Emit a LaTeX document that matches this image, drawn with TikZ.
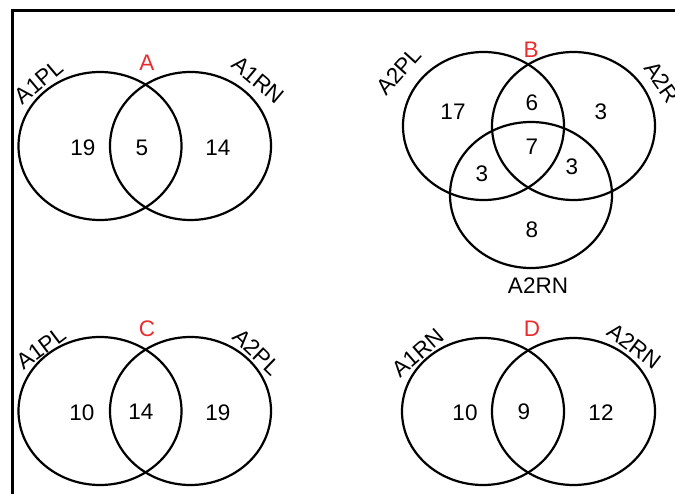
\documentclass[tikz,border=0pt]{standalone}
\usepackage{fontspec}
\setmainfont{Liberation Sans}
\usetikzlibrary{shapes.geometric}
\definecolor{setred}{RGB}{232,44,48}
\begin{document}
\begin{tikzpicture}[x=1pt,y=-1pt,
  setring/.style={draw=black,line width=2.2pt,ellipse,inner sep=0pt},
  num/.style={font=\fontsize{22.5}{26}\selectfont,inner sep=0pt},
  setname/.style={font=\fontsize{22.5}{26}\selectfont,inner sep=0pt},
  panel/.style={font=\fontsize{22.5}{26}\selectfont,text=setred,inner sep=0pt}]
\useasboundingbox (0,0) rectangle (675,494);
\fill[white] (0,0) rectangle (675,494);
% outer frame: only its left and top sides lie inside the page
\coordinate (fbl) at (12.5,500);
\coordinate (ftl) at (12.5,10.5);
\coordinate (ftr) at (680,10.5);
\draw[line width=2.5pt] (fbl) -- (ftl) -- (ftr);

% ---------- A ----------
\node[setring,minimum width=163,minimum height=148] (a1) at (100,146) {};
\node[setring,minimum width=161,minimum height=148] (a2) at (190.5,146) {};
\node[panel] (alab) at (147,63) {A};
\node[setname,rotate=40] (aL) at (39,82) {A1PL};
\node[setname,rotate=-40] (aR) at (258,80) {A1RN};
\node[num] (an1) at (83,148) {19};
\node[num] (an2) at (142,148) {5};
\node[num] (an3) at (218,148) {14};

% ---------- B ----------
\node[setring,minimum width=161,minimum height=148] (b1) at (483.5,126) {};
\node[setring,minimum width=163,minimum height=148] (b2) at (573.5,126) {};
\node[setring,minimum width=162,minimum height=146] (b3) at (531,195) {};
\node[panel] (blab) at (531,50) {B};
\node[setname,rotate=48] (bL) at (399,71) {A2PL};
\node[setname,rotate=-55] (bR) at (662,82) {A2R};
\node[setname] (bB) at (538,286) {A2RN};
\node[num] (bn1) at (453,112) {17};
\node[num] (bn2) at (532,103) {6};
\node[num] (bn3) at (601,112) {3};
\node[num] (bn4) at (532,147) {7};
\node[num] (bn5) at (482,174) {3};
\node[num] (bn6) at (572,167) {3};
\node[num] (bn7) at (532,230) {8};

% ---------- C ----------
\node[setring,minimum width=163,minimum height=148] (c1) at (100,411) {};
\node[setring,minimum width=161,minimum height=148] (c2) at (190.5,411) {};
\node[panel] (clab) at (147,329) {C};
\node[setname,rotate=37] (cL) at (41,348) {A1PL};
\node[setname,rotate=-44] (cR) at (257,352) {A2PL};
\node[num] (cn1) at (82,413) {10};
\node[num] (cn2) at (141,412) {14};
\node[num] (cn3) at (218,413) {19};

% ---------- D ----------
\node[setring,minimum width=162,minimum height=147] (d1) at (483,411.5) {};
\node[setring,minimum width=163,minimum height=147] (d2) at (573.5,411.5) {};
\node[panel] (dlab) at (532,329) {D};
\node[setname,rotate=41] (dL) at (418,353) {A1RN};
\node[setname,rotate=-37] (dR) at (634,346) {A2RN};
\node[num] (dn1) at (465,413) {10};
\node[num] (dn2) at (524,412) {9};
\node[num] (dn3) at (601,413) {12};
\end{tikzpicture}
\end{document}
